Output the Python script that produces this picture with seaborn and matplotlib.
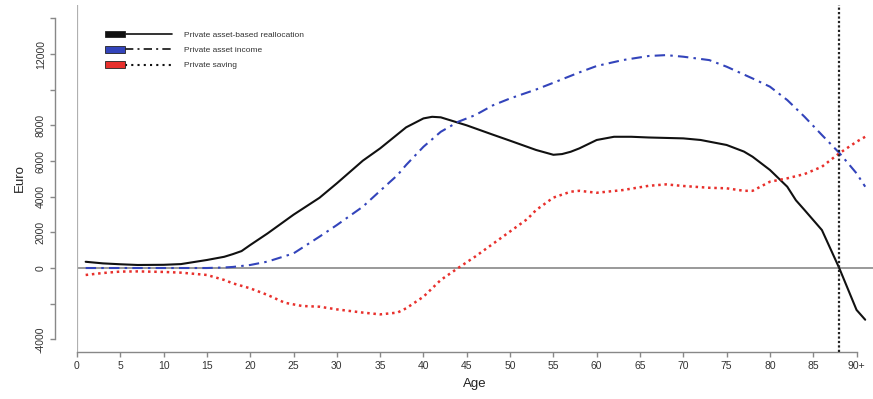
import matplotlib
matplotlib.use("Agg")
import matplotlib.pyplot as plt
import seaborn as sns
import pandas as pd
from matplotlib.patches import Rectangle
from matplotlib.lines import Line2D
from matplotlib.legend_handler import HandlerBase

# Age profiles (euro per person)
realloc_age = [1, 3, 5, 7, 10, 12, 15, 17, 18, 19, 20, 22, 25, 28, 30, 33, 35, 38,
               40, 41, 42, 43, 45, 48, 50, 53, 55, 56, 57, 58, 60, 62, 64, 66, 70,
               72, 75, 77, 78, 80, 82, 83, 84, 86, 88, 90, 91]
realloc_val = [350, 260, 210, 170, 180, 220, 450, 630, 780, 950, 1290, 1940, 2990,
               3940, 4750, 6020, 6710, 7890, 8390, 8480, 8450, 8300, 8000, 7480,
               7140, 6620, 6350, 6390, 6520, 6710, 7180, 7360, 7360, 7320, 7270,
               7180, 6900, 6530, 6240, 5500, 4560, 3800, 3250, 2130, 0, -2350,
               -2900]

income_age = [1, 5, 10, 15, 17, 18, 20, 22, 25, 28, 30, 33, 35, 37, 38, 40, 42, 44,
              46, 48, 50, 53, 55, 58, 60, 63, 66, 68, 70, 73, 75, 78, 80, 82, 84,
              86, 88, 90, 91]
income_val = [0, 0, 0, 0, 30, 60, 170, 360, 820, 1760, 2410, 3440, 4330, 5210,
              5780, 6800, 7640, 8200, 8580, 9120, 9510, 10010, 10390, 10970, 11330,
              11660, 11890, 11940, 11850, 11660, 11290, 10630, 10170, 9420, 8480,
              7460, 6460, 5310, 4560]

saving_age = [1, 3, 5, 7, 10, 12, 15, 17, 18, 20, 22, 24, 26, 28, 30, 33, 35, 37,
              38, 40, 42, 44, 46, 48, 50, 52, 53, 54, 55, 57, 58, 60, 63, 66, 68,
              70, 73, 75, 77, 78, 80, 82, 84, 86, 88, 90, 91]
saving_val = [-390, -280, -200, -190, -220, -260, -390, -670, -860, -1140, -1510,
              -1950, -2130, -2170, -2320, -2500, -2600, -2500, -2260, -1610, -670,
              0, 650, 1350, 2050, 2750, 3250, 3600, 3950, 4280, 4330, 4220, 4370,
              4610, 4690, 4600, 4500, 4470, 4330, 4330, 4840, 5030, 5270, 5680,
              6430, 7080, 7360]

series_names = ["Private asset-based reallocation", "Private asset income", "Private saving"]
x_ticks = [0, 5, 10, 15, 20, 25, 30, 35, 40, 45, 50, 55, 60, 65, 70, 75, 80, 85, 90]
x_tick_labels = ["0", "5", "10", "15", "20", "25", "30", "35", "40", "45", "50",
                 "55", "60", "65", "70", "75", "80", "85", "90+"]
y_ticks = [-4000, -2000, 0, 2000, 4000, 6000, 8000, 10000, 12000, 14000]
y_tick_labels = ["-4000", "", "0", "2000", "4000", "6000", "8000", "", "12000", ""]
cutoff_age = 88

DASHDOT = (0, (5, 2.5, 1.2, 2.5))
DOTTED = (0, (1, 1.5))

sns.set_theme(style="white")
plt.rcParams["font.family"] = ["Liberation Sans", "DejaVu Sans"]

fig = plt.figure(figsize=(8.73, 3.99), dpi=100)
ax = fig.add_axes([77 / 873, 1 - 352 / 399, 1 - 77 / 873, (352 - 5) / 399])

df_r = pd.DataFrame({"Age": realloc_age, "Euro": realloc_val})
df_i = pd.DataFrame({"Age": income_age, "Euro": income_val})
df_s = pd.DataFrame({"Age": saving_age, "Euro": saving_val})

ax.axhline(0, color="#999999", lw=1.4, zorder=1)
ax.axvline(0, color="#b0b0b0", lw=1.6, zorder=1)

sns.lineplot(data=df_r, x="Age", y="Euro", ax=ax, color="#111111", lw=1.5,
             label=series_names[0], zorder=3)
sns.lineplot(data=df_i, x="Age", y="Euro", ax=ax, color="#3344bb", lw=1.5,
             linestyle=DASHDOT, label=series_names[1], zorder=3)
sns.lineplot(data=df_s, x="Age", y="Euro", ax=ax, color="#e8302c", lw=1.8,
             linestyle=DOTTED, label=series_names[2], zorder=3)

ax.axvline(cutoff_age, color="#222222", lw=1.6, linestyle=(0, (1, 1)), zorder=4)

ax.set_xlim(0, 91.9)
ax.set_ylim(-4710, 14750)

for s in ["top", "right"]:
    ax.spines[s].set_visible(False)
ax.spines["left"].set_position(("outward", 15.8))
ax.spines["left"].set_bounds(-4000, 14000)
ax.spines["bottom"].set_bounds(0, 90)
for s in ["left", "bottom"]:
    ax.spines[s].set_color("#888888")
    ax.spines[s].set_linewidth(1.0)

ax.set_xticks(x_ticks)
ax.set_xticklabels(x_tick_labels)
ax.set_yticks(y_ticks)
ax.set_yticklabels(y_tick_labels, rotation=90, va="center")
ax.tick_params(axis="both", which="major", length=3.6, width=1.0, color="#888888",
               labelsize=7.5, labelcolor="#333333", pad=3, direction="out",
               bottom=True, left=True)

ax.set_xlabel("Age", fontsize=9.5, color="#222222", labelpad=5)
ax.set_ylabel("Euro", fontsize=9.5, color="#222222", labelpad=7)


class SwatchLine(HandlerBase):
    """Legend key: a filled colour swatch followed by a black sample of the line style."""

    def create_artists(self, legend, orig_handle, xdescent, ydescent, width,
                       height, fontsize, trans):
        sw = width * 0.3
        rect = Rectangle((-xdescent, -ydescent), sw, height,
                         facecolor=orig_handle.get_color(), edgecolor="#222222",
                         lw=0.6, transform=trans)
        y = -ydescent + height / 2
        line = Line2D([-xdescent + sw, -xdescent + width], [y, y],
                      color="#111111", lw=1.2, transform=trans)
        name = orig_handle.get_label()
        if name == series_names[1]:
            line.set_linestyle(DASHDOT)
        elif name == series_names[2]:
            line.set_linestyle((0, (1, 2)))
            line.set_linewidth(1.5)
        return [line, rect]


handles, labels = ax.get_legend_handles_labels()
leg = ax.legend(handles, labels, handler_map={h: SwatchLine() for h in handles},
                loc="upper left", bbox_to_anchor=(105 / 873, 1 - 31 / 399),
                bbox_transform=fig.transFigure, frameon=False, fontsize=6,
                handlelength=8, handleheight=0.8, handletextpad=1.5,
                labelspacing=0.85, borderpad=0, borderaxespad=0)
for t in leg.get_texts():
    t.set_color("#333333")

fig.savefig("out.png", dpi=100)
